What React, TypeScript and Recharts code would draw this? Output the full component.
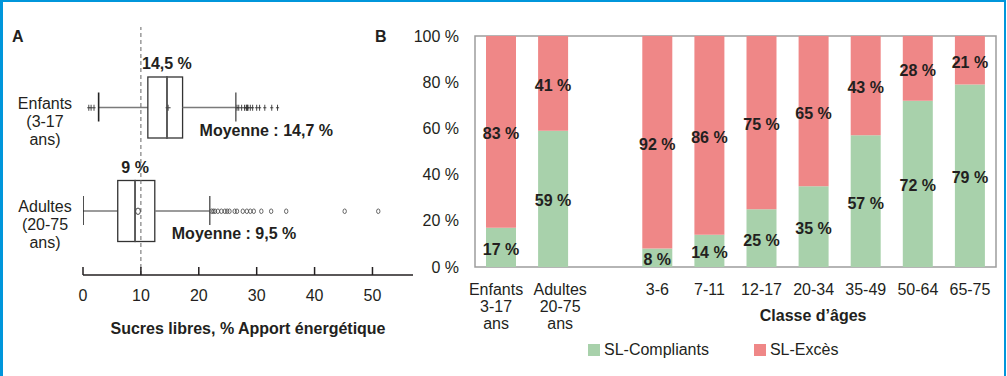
import React from "react";
import {
  ComposedChart,
  BarChart,
  Bar,
  XAxis,
  YAxis,
  Scatter,
  ReferenceLine,
  ReferenceArea,
  LabelList,
  Legend,
} from "recharts";

const FONT = '"Liberation Sans", Arial, Helvetica, sans-serif';
const INK = "#231f20";
const GREEN = "#a8d1ab";
const RED = "#ef8787";
const BLUE = "#0096db";

// Panel A : distribution des sucres libres (% AE)
const populations = ["Enfants\n(3-17\nans)", "Adultes\n(20-75\nans)"];
const whiskerLow = [2.7, 0];
const q1 = [11.2, 6.0];
const median = [14.5, 9];
const q3 = [17.2, 12.4];
const whiskerHigh = [26.4, 21.9];
const mean = [14.7, 9.5];
const outliersEnfants = [
  1.0, 1.4, 1.9, 26.6, 26.9, 27.4, 27.9, 28.2, 28.3, 28.4, 28.5, 28.9, 29.3,
  30.0, 30.5, 31.4, 32.6, 33.6,
];
const outliersAdultes = [
  22.2, 22.5, 22.8, 23.3, 23.9, 24.5, 24.9, 25.3, 26.2, 26.6, 27.6, 28.3, 28.9,
  29.5, 30.8, 32.5, 35.1, 45.2, 51.0,
];
const sugarTicks = [0, 10, 20, 30, 40, 50];

// Panel B : part des compliants / excès par classe d'âges
const ageGroups = [
  "Enfants\n3-17\nans",
  "Adultes\n20-75\nans",
  "",
  "3-6",
  "7-11",
  "12-17",
  "20-34",
  "35-49",
  "50-64",
  "65-75",
];
const compliants = [17, 59, null, 8, 14, 25, 35, 57, 72, 79];
const exces = [83, 41, null, 92, 86, 75, 65, 43, 28, 21];
const percentTicks = [0, 20, 40, 60, 80, 100];

const fmt = (v: number) => String(v).replace(".", ",");

const boxData = populations.map((name, i) => ({
  name,
  base: whiskerLow[i],
  lowWhisker: q1[i] - whiskerLow[i],
  boxLow: median[i] - q1[i],
  boxHigh: q3[i] - median[i],
  highWhisker: whiskerHigh[i] - q3[i],
  median: median[i],
  mean: mean[i],
}));

const meanPoints = populations.map((name, i) => ({ name, v: mean[i], idx: i }));
const enfantsPoints = outliersEnfants.map((v) => ({ name: populations[0], v }));
const adultesPoints = outliersAdultes.map((v) => ({ name: populations[1], v }));

const shareData = ageGroups.map((name, i) => ({
  name,
  compliants: compliants[i],
  exces: exces[i],
}));

const LowWhisker = (props: any) => {
  const { x, y, width, height } = props;
  const cy = y + height / 2;
  return (
    <g>
      <line x1={x} x2={x + width} y1={cy} y2={cy} stroke="#7a7a7a" strokeWidth={1.3} />
      <line x1={x} x2={x} y1={cy - 15} y2={cy + 14} stroke="#222" strokeWidth={1.6} />
    </g>
  );
};

const HighWhisker = (props: any) => {
  const { x, y, width, height, payload } = props;
  const cy = y + height / 2;
  return (
    <g>
      <line x1={x} x2={x + width} y1={cy} y2={cy} stroke="#7a7a7a" strokeWidth={1.3} />
      <line x1={x + width} x2={x + width} y1={cy - 15} y2={cy + 14} stroke="#555" strokeWidth={1.4} />
      <text
        x={x + 17}
        y={y + height - 2.5}
        fontSize={16}
        fontWeight="bold"
        fill={INK}
        fontFamily={FONT}
      >
        Moyenne : {fmt(payload.mean)} %
      </text>
    </g>
  );
};

const BoxLow = (props: any) => {
  const { x, y, width, height } = props;
  return <rect x={x} y={y} width={width} height={height} fill="none" stroke="#333" strokeWidth={1.3} />;
};

const BoxHigh = (props: any) => {
  const { x, y, width, height, payload } = props;
  return (
    <g>
      <rect x={x} y={y} width={width} height={height} fill="none" stroke="#333" strokeWidth={1.3} />
      <line x1={x} x2={x} y1={y} y2={y + height} stroke="#666" strokeWidth={1.3} />
      <text
        x={x}
        y={y - 8}
        textAnchor="middle"
        fontSize={16}
        fontWeight="bold"
        fill={INK}
        fontFamily={FONT}
      >
        {fmt(payload.median)} %
      </text>
    </g>
  );
};

const PlusMark = (props: any) => {
  const { cx, cy } = props;
  return (
    <g stroke="#333" strokeWidth={0.9}>
      <line x1={cx} x2={cx} y1={cy - 3} y2={cy + 3} />
      <line x1={cx - 1.6} x2={cx + 1.6} y1={cy} y2={cy} />
    </g>
  );
};

const RingMark = (props: any) => {
  const { cx, cy } = props;
  return <ellipse cx={cx} cy={cy} rx={1.7} ry={2.3} fill="none" stroke="#444" strokeWidth={0.8} />;
};

const MeanMark = (props: any) => {
  const { cx, cy, payload } = props;
  if (payload.idx === 0) {
    return (
      <g stroke="#444" strokeWidth={1}>
        <line x1={cx} x2={cx} y1={cy - 3} y2={cy + 3} />
        <line x1={cx - 2.5} x2={cx + 2.5} y1={cy} y2={cy} />
      </g>
    );
  }
  return <ellipse cx={cx} cy={cy} rx={2.4} ry={3.2} fill="none" stroke="#444" strokeWidth={1} />;
};

const SugarTick = (props: any) => {
  const { x, y, payload } = props;
  return (
    <g>
      <line x1={x} x2={x} y1={y} y2={y - 8} stroke={INK} strokeWidth={1.5} />
      <text x={x} y={y + 26} textAnchor="middle" fontSize={16} fill={INK} fontFamily={FONT}>
        {payload.value}
      </text>
    </g>
  );
};

const PopTick = (props: any) => {
  const { x, y, payload } = props;
  const lines = String(payload.value).split("\n");
  return (
    <text textAnchor="middle" fontSize={16} fill={INK} fontFamily={FONT}>
      {lines.map((l, i) => (
        <tspan key={i} x={x - 38} y={y + 1 + i * 18}>
          {l}
        </tspan>
      ))}
    </text>
  );
};

const GroupTick = (props: any) => {
  const { x, y, payload, index } = props;
  const lines = String(payload.value).split("\n");
  const dx = index === 0 ? -5 : index === 1 ? 7 : 0;
  return (
    <text textAnchor="middle" fontSize={16} fill={INK} fontFamily={FONT}>
      {lines.map((l, i) => (
        <tspan key={i} x={x + dx} y={y + 28 + i * 17}>
          {l}
        </tspan>
      ))}
    </text>
  );
};

const SegmentLabel = (props: any) => {
  const { x, y, width, height, value } = props;
  if (value == null) return null;
  return (
    <text
      x={x + width / 2}
      y={y + height / 2 + 7.5}
      textAnchor="middle"
      fontSize={16}
      fontWeight="bold"
      fill={INK}
      fontFamily={FONT}
    >
      {value} %
    </text>
  );
};

const ShareLegend = (props: any) => {
  const { payload = [] } = props;
  return (
    <div
      style={{
        display: "flex",
        alignItems: "center",
        gap: 45,
        fontSize: 16,
        color: INK,
        fontFamily: FONT,
        whiteSpace: "nowrap",
        lineHeight: "18px",
      }}
    >
      {payload.map((entry: any) => (
        <span key={entry.value} style={{ display: "flex", alignItems: "center", gap: 4 }}>
          <span style={{ width: 12, height: 12, background: entry.color, display: "inline-block" }} />
          {entry.value}
        </span>
      ))}
    </div>
  );
};

export default function App() {
  return (
    <div
      style={{
        position: "absolute",
        left: 0,
        top: 0,
        width: 1007,
        height: 376,
        background: "#fff",
        fontFamily: FONT,
        color: INK,
        overflow: "hidden",
      }}
    >
      <div
        style={{
          position: "absolute",
          left: 0,
          top: 0,
          width: 1006,
          height: 380,
          boxSizing: "border-box",
          borderTop: `2px solid ${BLUE}`,
          borderLeft: `3px solid ${BLUE}`,
          borderRight: `2px solid ${BLUE}`,
        }}
      />
      <div style={{ position: "absolute", left: 12, top: 28, fontWeight: "bold", fontSize: 16, lineHeight: "18px" }}>A</div>
      <div style={{ position: "absolute", left: 375, top: 28, fontWeight: "bold", fontSize: 16, lineHeight: "18px" }}>B</div>

      <div style={{ position: "absolute", left: 0, top: 0 }}>
        <ComposedChart
          layout="vertical"
          width={430}
          height={376}
          data={boxData}
          margin={{ top: 27, right: 17, bottom: 37, left: 0 }}
        >
          <XAxis
            type="number"
            domain={[0, 57]}
            allowDataOverflow
            ticks={sugarTicks}
            height={64}
            tickSize={0}
            tickMargin={0}
            tickLine={false}
            axisLine={{ stroke: INK, strokeWidth: 1.5 }}
            tick={<SugarTick />}
            label={{
              value: "Sucres libres, % Apport énergétique",
              content: (p: any) => (
                <text
                  x={p.viewBox.x + p.viewBox.width / 2}
                  y={p.viewBox.y + 58.5}
                  textAnchor="middle"
                  fontSize={16}
                  fontWeight="bold"
                  fill={INK}
                  fontFamily={FONT}
                >
                  Sucres libres, % Apport énergétique
                </text>
              ),
            }}
          />
          <YAxis
            type="category"
            dataKey="name"
            width={83}
            allowDuplicatedCategory={false}
            padding={{ top: 29, bottom: 12 }}
            axisLine={false}
            tickLine={false}
            tickSize={0}
            tickMargin={0}
            interval={0}
            tick={<PopTick />}
          />
          <Bar dataKey="base" stackId="b" fill="transparent" barSize={61} isAnimationActive={false} />
          <Bar dataKey="lowWhisker" stackId="b" barSize={61} shape={<LowWhisker />} isAnimationActive={false} />
          <Bar dataKey="boxLow" stackId="b" barSize={61} shape={<BoxLow />} isAnimationActive={false} />
          <Bar dataKey="boxHigh" stackId="b" barSize={61} shape={<BoxHigh />} isAnimationActive={false} />
          <Bar dataKey="highWhisker" stackId="b" barSize={61} shape={<HighWhisker />} isAnimationActive={false} />
          <Scatter data={enfantsPoints} dataKey="v" shape={<PlusMark />} isAnimationActive={false} />
          <Scatter data={adultesPoints} dataKey="v" shape={<RingMark />} isAnimationActive={false} />
          <Scatter data={meanPoints} dataKey="v" shape={<MeanMark />} isAnimationActive={false} />
          <ReferenceLine x={10} stroke="#666" strokeDasharray="4 3" strokeWidth={1} />
        </ComposedChart>
      </div>

      <div style={{ position: "absolute", left: 400, top: 0 }}>
        <BarChart
          width={607}
          height={376}
          data={shareData}
          margin={{ top: 36, right: 11, bottom: 49, left: 0 }}
        >
          <XAxis
            dataKey="name"
            interval={0}
            height={60}
            tickSize={0}
            tickMargin={0}
            axisLine={false}
            tickLine={false}
            tick={<GroupTick />}
            label={{
              value: "Classe d’âges",
              content: (p: any) => (
                <text
                  x={p.viewBox.x + p.viewBox.width * 0.649}
                  y={p.viewBox.y + 53.5}
                  textAnchor="middle"
                  fontSize={16}
                  fontWeight="bold"
                  fill={INK}
                  fontFamily={FONT}
                >
                  Classe d’âges
                </text>
              ),
            }}
          />
          <YAxis
            type="number"
            domain={[0, 100]}
            ticks={percentTicks}
            width={75}
            axisLine={false}
            tickLine={false}
            tickSize={0}
            tickMargin={16}
            tickFormatter={(v: number) => `${v} %`}
            tick={{ fill: INK, fontSize: 16, fontFamily: FONT }}
          />
          <Bar dataKey="compliants" name="SL-Compliants" stackId="s" fill={GREEN} barSize={30} isAnimationActive={false}>
            <LabelList dataKey="compliants" content={<SegmentLabel />} />
          </Bar>
          <Bar dataKey="exces" name="SL-Excès" stackId="s" fill={RED} barSize={30} isAnimationActive={false}>
            <LabelList dataKey="exces" content={<SegmentLabel />} />
          </Bar>
          <ReferenceArea y1={0} y2={100} fill="none" stroke="#9d9d9d" strokeWidth={1.5} ifOverflow="visible" />
          <Legend
            layout="horizontal"
            verticalAlign="middle"
            align="center"
            wrapperStyle={{ top: 341, left: 188, width: "auto", height: "auto" }}
            content={<ShareLegend />}
          />
        </BarChart>
      </div>
    </div>
  );
}
